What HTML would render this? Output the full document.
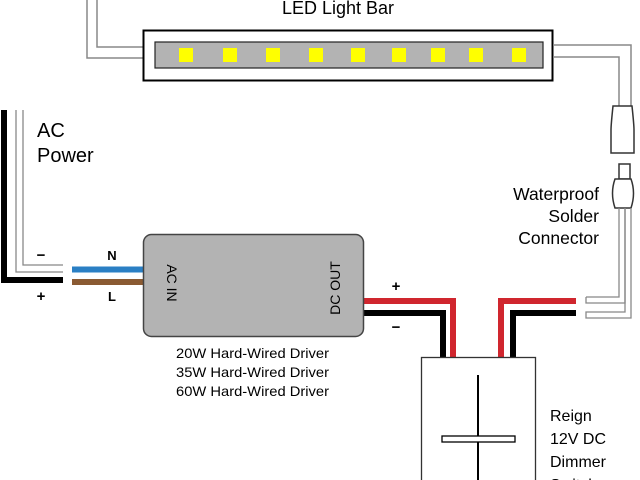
<!DOCTYPE html>
<html><head><meta charset="utf-8"><style>
html,body{margin:0;padding:0;background:#fff;}
svg{display:block;}
text{font-family:"Liberation Sans",sans-serif;}
</style></head><body>
<svg width="640" height="480" viewBox="0 0 640 480" xmlns="http://www.w3.org/2000/svg">
<polyline points="87,0 87,58 143,58" fill="none" stroke="#888" stroke-width="1.5"/>
<polyline points="97,0 97,47 143,47" fill="none" stroke="#888" stroke-width="1.5"/>
<text x="338" y="14" font-size="18" text-anchor="middle">LED Light Bar</text>
<rect x="143.5" y="30.5" width="409" height="50" fill="#fff" stroke="#000" stroke-width="2"/>
<rect x="155" y="42" width="388" height="26" fill="#b3b3b3" stroke="#222" stroke-width="1.2"/>
<g fill="#ffff00">
<rect x="179" y="48" width="14" height="14"/><rect x="223" y="48" width="14" height="14"/>
<rect x="266" y="48" width="14" height="14"/><rect x="309" y="48" width="14" height="14"/>
<rect x="351" y="48" width="14" height="14"/><rect x="392" y="48" width="14" height="14"/>
<rect x="431" y="48" width="14" height="14"/><rect x="469" y="48" width="14" height="14"/>
<rect x="512" y="48" width="14" height="14"/>
</g>
<polyline points="553,45 631,45 631,106" fill="none" stroke="#888" stroke-width="1.5"/>
<polyline points="553,57 619,57 619,106" fill="none" stroke="#888" stroke-width="1.5"/>
<path d="M613,106 L632,106 Q634,125 634,130 L634,153 L611,153 L611,130 Q611,125 613,106 Z" fill="#fff" stroke="#333" stroke-width="1.5"/>
<rect x="619" y="164" width="11" height="15" fill="#fff" stroke="#333" stroke-width="1.5"/>
<path d="M615,179 L631,179 Q636,193 631,208 L615,208 Q610,193 615,179 Z" fill="#fff" stroke="#333" stroke-width="1.5"/>
<polyline points="619,208 619,297 586,297" fill="none" stroke="#888" stroke-width="1.3"/>
<polyline points="625,208 625,303 586,303 586,297" fill="none" stroke="#888" stroke-width="1.3"/>
<polyline points="625,208 625,312 586,312 586,318 631,318 631,208" fill="none" stroke="#888" stroke-width="1.3"/>
<text x="599" y="200" font-size="17.5" text-anchor="end">Waterproof</text>
<text x="599" y="222" font-size="17.5" text-anchor="end">Solder</text>
<text x="599" y="244" font-size="17.5" text-anchor="end">Connector</text>
<polyline points="4,110 4,280 63,280" fill="none" stroke="#000" stroke-width="6"/>
<polyline points="16,110 16,272 63,272" fill="none" stroke="#888" stroke-width="1.3"/>
<polyline points="23,110 23,265 63,265" fill="none" stroke="#888" stroke-width="1.3"/>
<text x="37" y="137" font-size="20">AC</text>
<text x="37" y="162" font-size="20">Power</text>
<text x="41" y="260" font-size="15" font-weight="bold" text-anchor="middle">−</text>
<text x="41" y="301" font-size="15" font-weight="bold" text-anchor="middle">+</text>
<line x1="72" y1="269.5" x2="144" y2="269.5" stroke="#2a7fc4" stroke-width="6"/>
<line x1="72" y1="282" x2="144" y2="282" stroke="#8a5a32" stroke-width="6"/>
<text x="112" y="260" font-size="13" font-weight="bold" text-anchor="middle">N</text>
<text x="112" y="301" font-size="13" font-weight="bold" text-anchor="middle">L</text>
<polyline points="363,301 453,301 453,358" fill="none" stroke="#d0262e" stroke-width="6"/>
<polyline points="363,313 443,313 443,358" fill="none" stroke="#000" stroke-width="6"/>
<polyline points="576,301 501,301 501,358" fill="none" stroke="#d0262e" stroke-width="6"/>
<polyline points="576,313 513,313 513,358" fill="none" stroke="#000" stroke-width="6"/>
<text x="396" y="291" font-size="15" font-weight="bold" text-anchor="middle">+</text>
<text x="396" y="332" font-size="15" font-weight="bold" text-anchor="middle">−</text>
<rect x="143.5" y="234.5" width="220" height="102" rx="8" fill="#b3b3b3" stroke="#444" stroke-width="1.5"/>
<text transform="translate(167,283) rotate(90)" font-size="14" text-anchor="middle">AC  IN</text>
<text transform="translate(340,288) rotate(-90)" font-size="14" text-anchor="middle">DC  OUT</text>
<text x="176" y="358" font-size="14" textLength="153" lengthAdjust="spacingAndGlyphs">20W Hard-Wired Driver</text>
<text x="176" y="377" font-size="14" textLength="153" lengthAdjust="spacingAndGlyphs">35W Hard-Wired Driver</text>
<text x="176" y="396" font-size="14" textLength="153" lengthAdjust="spacingAndGlyphs">60W Hard-Wired Driver</text>
<rect x="421.5" y="357.5" width="114" height="130" fill="#fff" stroke="#333" stroke-width="1.3"/>
<line x1="478" y1="375" x2="478" y2="480" stroke="#000" stroke-width="2"/>
<rect x="442" y="436" width="73" height="6" fill="#fff" stroke="#000" stroke-width="1.3"/>
<text x="550" y="421" font-size="16">Reign</text>
<text x="550" y="444" font-size="16">12V DC</text>
<text x="550" y="467" font-size="16">Dimmer</text>
<text x="550" y="490" font-size="16">Switch</text>
</svg>
</body></html>
